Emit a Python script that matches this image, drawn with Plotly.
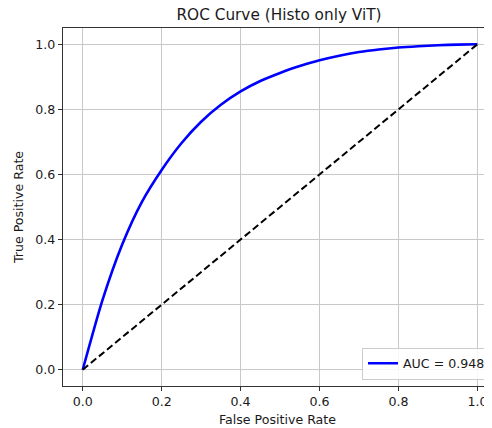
import plotly.graph_objects as go

# ROC curve values
fpr = [0.0, 0.05, 0.1, 0.15, 0.2, 0.25, 0.3, 0.35, 0.4, 0.45, 0.5,
       0.55, 0.6, 0.65, 0.7, 0.75, 0.8, 0.85, 0.9, 0.95, 1.0]
tpr = [0.0, 0.214, 0.385, 0.516, 0.614, 0.696, 0.762, 0.814, 0.855, 0.887, 0.912,
       0.933, 0.951, 0.965, 0.976, 0.984, 0.990, 0.994, 0.997, 0.999, 1.0]
chance_x = [0.0, 1.0]
chance_y = [0.0, 1.0]
auc_label = "AUC = 0.948"
tick_vals = [0.0, 0.2, 0.4, 0.6, 0.8, 1.0]
tick_text = ["0.0", "0.2", "0.4", "0.6", "0.8", "1.0"]

FONT = "DejaVu Sans"
TXT = "#1a1a1a"

# page has an 8px body margin, so the figure is sized/offset to compensate
W, H = 484, 420
ML, MT, MB = 54.5, 19.5, 42

fig = go.Figure()
fig.add_trace(go.Scatter(
    x=fpr, y=tpr, mode="lines", name=auc_label,
    line=dict(color="#0000ff", width=2.6, shape="spline", smoothing=0.7),
))
fig.add_trace(go.Scatter(
    x=chance_x, y=chance_y, mode="lines", showlegend=False,
    line=dict(color="black", width=2, dash="7px,3.5px"),
))

axis_common = dict(
    showgrid=True, gridcolor="#c8c8c8", gridwidth=1,
    zeroline=False, showline=True, linecolor="#333333", linewidth=1.3,
    ticks="outside", ticklen=4, tickwidth=1, tickcolor="#333333",
    tickvals=tick_vals, ticktext=tick_text,
    tickfont=dict(family=FONT, size=12.6, color=TXT),
)

plot_w = W - ML
plot_h = H - MT - MB

fig.update_layout(
    width=W, height=H,
    margin=dict(l=ML, r=0, t=MT, b=MB, autoexpand=False),
    paper_bgcolor="white", plot_bgcolor="white",
    font=dict(family=FONT, size=12.6, color=TXT),
    title=dict(text="ROC Curve (Histo only ViT)", x=271 / W, xanchor="center",
               y=1 - 1.5 / H, yanchor="top", pad=dict(t=0, b=0),
               font=dict(family=FONT, size=15.3, color=TXT)),
    xaxis=dict(range=[-0.05, 1.037], mirror=True,
               title=dict(text="False Positive Rate", standoff=6,
                          font=dict(family=FONT, size=12.6, color=TXT)),
               **axis_common),
    yaxis=dict(range=[-0.05, 1.05],
               title=dict(text="True Positive Rate", standoff=8,
                          font=dict(family=FONT, size=12.6, color=TXT)),
               **axis_common),
    legend=dict(x=1 - 1 / plot_w, xanchor="right", y=6.5 / plot_h, yanchor="bottom",
                bgcolor="rgba(255,255,255,0.85)", bordercolor="#cccccc", borderwidth=1,
                font=dict(family=FONT, size=12.6, color=TXT),
                itemwidth=30, tracegroupgap=0),
    showlegend=True,
)

fig.write_html("out.html")
